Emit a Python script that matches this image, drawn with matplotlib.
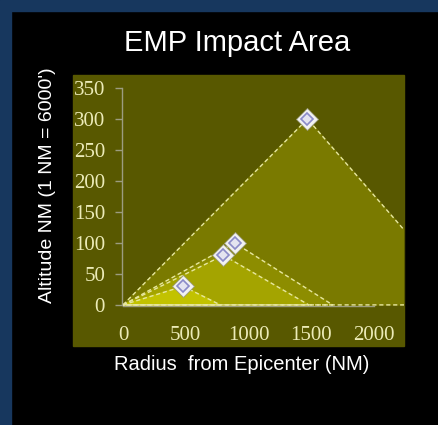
import matplotlib
matplotlib.use("Agg")
import matplotlib.pyplot as plt
from matplotlib.patches import Rectangle

# altitude of burst (NM) and the radius reached
peak_x = [1470, 890, 800, 480]
peak_y = [300, 100, 80, 30]
base_right = [2760, 1670, 1480, 775]
fills = ['#7a7a00', '#8d8d00', '#a4a400', '#c2c200']

x_ticks = [0, 500, 1000, 1500, 2000]
y_ticks = [0, 50, 100, 150, 200, 250, 300, 350]

W, H = 438, 425
fig = plt.figure(figsize=(W / 100, H / 100), dpi=100, facecolor='black')

# navy frame on the left and top, olive chart area (behind the axes)
fig.patches.append(Rectangle((0, 0), 11 / W, 1, transform=fig.transFigure,
                             color='#17375e', zorder=-2))
fig.patches.append(Rectangle((0, 1 - 11 / H), 1, 11 / H, transform=fig.transFigure,
                             color='#17375e', zorder=-2))
fig.patches.append(Rectangle((72.5 / W, 1 - 346 / H), (404 - 72.5) / W, (346 - 75) / H,
                             transform=fig.transFigure, color='#585800', zorder=-1))

ax = fig.add_axes([123 / W, 1 - 308 / H, (404 - 123) / W, (308 - 88) / H])
ax.set_facecolor('none')
ax.set_xlim(0, 2239)
ax.set_ylim(-5, 350)

for px, py, bx, c in zip(peak_x, peak_y, base_right, fills):
    ax.fill([0, px, bx], [0, py, 0], color=c, zorder=2)
    ax.plot([0, px, bx, 0], [0, py, 0, 0], color='#e6e6a0', lw=1,
            linestyle=(0, (3, 2)), zorder=3)

ax.plot(peak_x, peak_y, linestyle='none', marker='D', ms=11,
        mfc='#f2f2f2', mec='#9a9a7a', mew=0.6, zorder=4)
ax.plot(peak_x, peak_y, linestyle='none', marker='D', ms=6,
        mfc='#e4e4f0', mec='#8a8ac8', mew=1.2, zorder=5)

for s in ['top', 'right']:
    ax.spines[s].set_visible(False)
ax.spines['left'].set_bounds(0, 350)
ax.spines['left'].set_position(('data', -10))
ax.spines['bottom'].set_bounds(0, 2000)
ax.spines['bottom'].set_position(('data', -2))
for s in ['left', 'bottom']:
    ax.spines[s].set_color('#9c9c80')
    ax.spines[s].set_linewidth(1)
    ax.spines[s].set_zorder(1)

ax.set_xticks(x_ticks)
ax.set_yticks(y_ticks)
ax.tick_params(axis='y', colors='#9c9c80', length=5, width=1, pad=7,
               labelcolor='#ecebb8', labelsize=15)
ax.tick_params(axis='x', length=0, pad=14, labelcolor='#ecebb8', labelsize=15)
for lab in ax.get_xticklabels() + ax.get_yticklabels():
    lab.set_family('Liberation Serif')

fig.text(237 / W, 1 - 43 / H, 'EMP Impact Area', color='white', fontsize=21,
         family='Liberation Sans', ha='center', va='center')
fig.text(242 / W, 1 - 365 / H, 'Radius  from Epicenter (NM)', color='white', fontsize=14.5,
         family='Liberation Sans', ha='center', va='center')
fig.text(48 / W, 1 - 185 / H, "Altitude NM (1 NM = 6000')", color='white', fontsize=14,
         family='Liberation Sans', ha='center', va='center', rotation=90)

fig.savefig('out.png', dpi=100, facecolor=fig.get_facecolor())
